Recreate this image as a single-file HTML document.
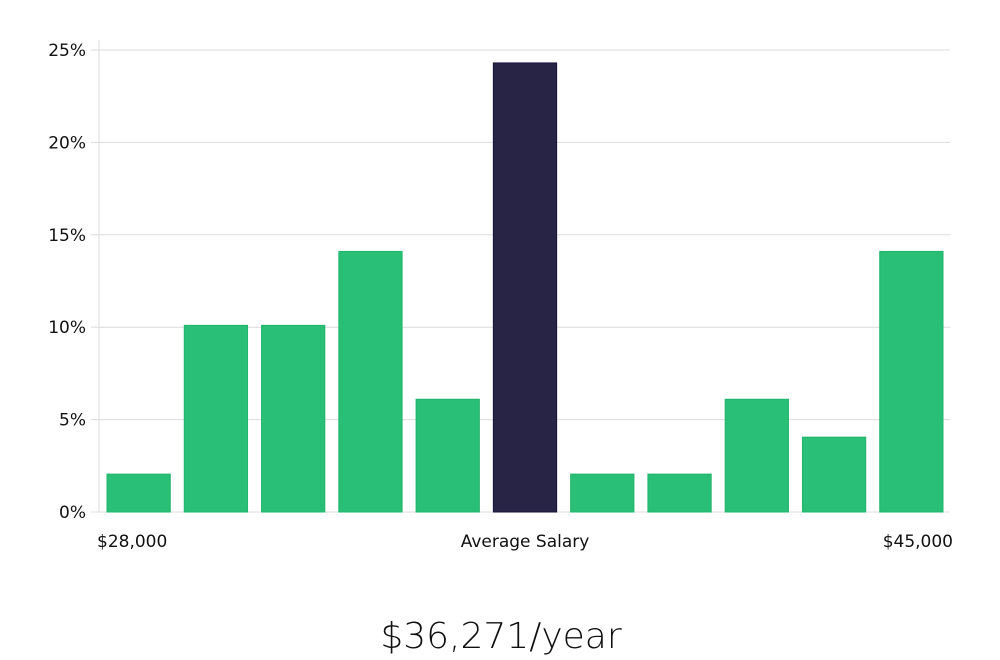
<!DOCTYPE html>
<html><head><meta charset="utf-8"><style>
html,body{margin:0;padding:0;background:#fff;width:1000px;height:660px;overflow:hidden}
text{font-family:"DejaVu Sans","Liberation Sans",sans-serif}
</style></head><body>
<svg id="chart" width="1000" height="660" xmlns="http://www.w3.org/2000/svg"></svg>
<script>
const categories=["b1","b2","b3","b4","b5","avg","b7","b8","b9","b10","b11"];
const values=[2.05,10.1,10.1,14.1,6.1,24.3,2.05,2.05,6.1,4.05,14.1];
const highlight=[false,false,false,false,false,true,false,false,false,false,false];
const yTicks=[0,5,10,15,20,25];
const yTickLabels=["0%","5%","10%","15%","20%","25%"];
const xLabels=["$28,000","Average Salary","$45,000"];
const ns="http://www.w3.org/2000/svg";
const svg=document.getElementById('chart');
const X0=100,X1=950,Y0=512,Y25=50;
const y=v=>Y0-(v/25)*(Y0-Y25);
const slot=(X1-X0)/categories.length;
const x=i=>X0+i*slot;
function mk(t,a){const e=document.createElementNS(ns,t);for(const k in a)e.setAttribute(k,a[k]);svg.appendChild(e);return e;}
yTicks.forEach((t,i)=>{
  const g=mk('line',{x1:X0,x2:X1,y1:y(t),y2:y(t),stroke:'#dcdcdc','stroke-width':1});
  
  
  const tk=mk('line',{x1:91,x2:X0,y1:y(t),y2:y(t),stroke:'#dcdcdc','stroke-width':1});
  
  
  const l=mk('text',{x:86,y:y(t)+6,'text-anchor':'end','font-size':17,fill:'#111'});
  l.textContent=yTickLabels[i];
  
  
});
const ax=mk('line',{x1:99,x2:99,y1:40,y2:Y0,stroke:'#dcdcdc','stroke-width':1});


values.forEach((v,i)=>{
  const r=mk('rect',{x:x(i)+7,y:y(v),width:slot-14,height:Y0-y(v),fill:highlight[i]?'#272446':'#2abf76',stroke:highlight[i]?'#16143a':'#22b56b','stroke-width':1});
  
  
});
const xl=[[97,'start'],[525,'middle'],[953,'end']];
xLabels.forEach((s,i)=>{
  const t=mk('text',{x:xl[i][0],y:547,'text-anchor':xl[i][1],'font-size':17,fill:'#111'});
  t.textContent=s;
  
  
});
const tt=mk('text',{x:501,y:648,'text-anchor':'middle','font-size':36,fill:'#111','font-family':'"Liberation Sans",sans-serif','font-weight':'300'});
tt.textContent="$36,271/year";


</script>
</body></html>
